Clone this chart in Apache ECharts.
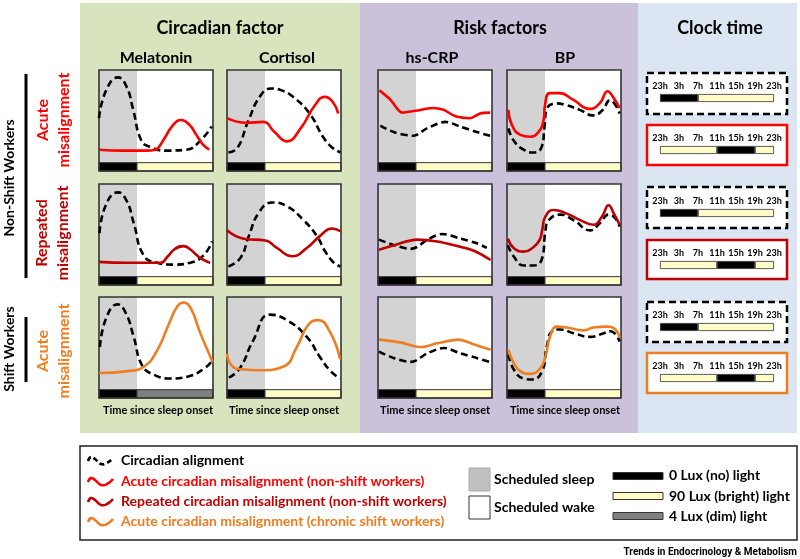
<!DOCTYPE html>
<html><head><meta charset="utf-8">
<script src="https://cdn.jsdelivr.net/npm/echarts@6/dist/echarts.min.js"></script>
<style>html,body{margin:0;padding:0;background:#fff}#c{width:800px;height:559px}</style>
</head><body><div id="c"></div><script>
// ---------- data (x = hours since sleep onset, y = relative level 0-100) ----------
const SLEEP_END = 8, DAY_END = 24;

const melAlign1 = [[0,48],[1.5,78],[4,92],[5.8,82],[7.2,57],[8.9,24],[10.7,17],[14.2,13],[18.4,14],[21.2,23],[23.7,39]];
const melAcute1 = [[0,14],[5,13],[10,13],[11.8,14],[13.5,24],[15.5,40],[17.3,46],[19,41],[20.5,30],[21.8,20],[23.2,14]];
const cortAlign1 = [[0.3,11],[2.2,16],[4.4,44],[7,72],[9.3,80],[11.5,78],[13.9,71],[17.4,53],[20.2,28],[22,17],[23.9,11]];
const cortAcute1 = [[0,48],[4.1,43],[7.6,44],[10,33],[12.6,23],[15.5,37],[18.5,62],[20.6,71],[22.2,66],[23.4,53]];
const crpAlign1 = [[0.5,40],[3.3,33],[7.5,29],[10.3,37],[14.2,44],[17.3,39],[20.8,33],[23.6,29]];
const crpAcute1 = [[0.3,78],[2.6,68],[5.1,54],[7.9,56],[11.4,59],[13.8,57],[16.3,50],[19.4,48],[21.5,53],[23.6,54]];
const bpAlign1 = [[0.3,37],[1.4,24],[3.5,14],[5.6,11],[7.3,17],[7.9,39],[8.3,57],[10.4,64],[12.5,62],[15.3,57],[18.1,51],[20.2,57],[21.6,67],[22.6,64],[23.7,53]];
const bpAcute1 = [[0.3,57],[1,41],[2.8,30],[4.9,28],[6.6,33],[7.7,46],[8,62],[9,75],[11.1,75],[13.9,68],[17.4,58],[19.5,64],[21.2,77],[22.3,71],[23.7,59]];

const melAlign2 = [[0.1,47],[1.5,78],[4,91],[5.8,82],[7.3,58],[9.4,23],[12.2,15],[15.7,13],[19.2,15],[22,23],[23.8,38]];
const melRepeat2 = [[0,16],[6,15],[12.9,15],[14.5,22],[16,30],[17.8,33],[19.3,29],[20.6,23],[22,18],[23.4,15]];
const cortAlign2 = [[0.3,11],[2.8,20],[4.6,44],[6.7,69],[9.5,80],[12.6,76],[16.1,61],[18.9,44],[20.7,27],[22.5,15],[23.9,11]];
const cortRepeat2 = [[0,50],[3.5,41],[8.1,39],[10.5,31],[13.7,22],[16.8,31],[19.6,44],[22.1,52],[23.9,49]];
const crpAlign2 = [[0.2,40],[3.4,34],[6.9,30],[8.2,32],[10.4,40],[13.5,46],[17.4,41],[20.8,36],[22.9,31]];
const crpRepeat2 = [[0.2,29],[3.4,34],[8.2,40],[12.5,38],[16.7,33],[20.2,28],[23.7,18]];
const bpAlign2 = [[0.2,34],[1.4,22],[3.5,12],[5.6,12],[7.4,20],[8.1,50],[8.8,61],[11.2,67],[14,61],[17.5,50],[19.6,58],[21.4,67],[22.8,63],[23.7,54]];
const bpRepeat2 = [[0.2,41],[1.4,31],[3.5,27],[5.6,32],[6.9,40],[7.4,50],[8.1,65],[9.8,72],[12.6,68],[15.4,61],[18.2,56],[20,65],[21.4,77],[22.5,68],[23.7,56]];

const melAlign3 = [[0.2,46],[1.5,77],[3.9,92],[5.7,82],[7.3,57],[9.1,26],[11.6,16],[15.1,12],[18.6,14],[22.2,23],[23.9,32]];
const melShift3 = [[0,18],[6,20],[9.5,25],[12.3,43],[14.8,72],[16.5,90],[17.8,94],[19.3,88],[21.1,64],[22.8,43],[23.9,30]];
const cortAlign3 = [[0.4,13],[2.7,23],[5.5,53],[9,81],[12.6,75],[16.8,57],[19.6,35],[21.8,20],[23.8,12]];
const cortShift3 = [[0,39],[1,26],[3,22],[7,21],[11.9,25],[14.7,46],[17.1,70],[19.2,75],[21.7,62],[23.8,33]];
const crpAlign3 = [[0.2,41],[3.4,34],[6.9,30],[8.2,32],[10.3,39],[13.9,45],[17.4,39],[20.9,34],[23.4,30]];
const crpShift3 = [[0.2,54],[4.7,51],[9,46],[12.4,50],[16.9,54],[20.1,49],[23.7,43]];
const bpAlign3 = [[0.3,38],[1.4,22],[3.5,12],[5.3,11],[7.4,20],[8.4,47],[9.5,63],[11.2,65],[14,61],[17.5,57],[20.4,61],[21.8,63],[22.8,60],[23.7,52]];
const bpShift3 = [[0.3,43],[1.4,29],[2.8,20],[4.9,17],[7,23],[8.1,36],[9.1,58],[10.5,68],[12.6,67],[16.1,64],[18.2,67],[21,68],[22.8,65],[23.7,56]];

const clockTicks = ['23h','3h','7h','11h','15h','19h','23h'];
const clockAlignedHours = [8, 16];        // dark, bright (from 23h)
const clockAlignedLight = ['dark','bright'];
const clockMisHours = [12, 8, 4];
const clockMisLight = ['bright','dark','bright'];

const columnNames = ['Melatonin','Cortisol','hs-CRP','BP'];
const sectionNames = ['Circadian factor','Risk factors','Clock time'];
const xLabel = 'Time since sleep onset';

// ---------- styling / layout ----------
const FONT = 'Lato, "Open Sans", sans-serif';
const C = {align:'#000000', acute:'#ff0000', repeated:'#c00000', shift:'#ef7d22',
  sleep:'#d3d3d3', dark:'#000000', bright:'#fffcc8', dim:'#808080', frame:'#333333'};
const LIGHT = {dark:C.dark, bright:C.bright, dim:C.dim};
const colLeft = [99, 227, 378, 507];
const colCenter = [158, 284, 435, 565];
const rowTop = [70, 184, 297];
const PW = 114, PH = 101;

const panels = [
  {r:0,c:0,a:melAlign1,m:melAcute1,col:C.acute,wake:'bright'},
  {r:0,c:1,a:cortAlign1,m:cortAcute1,col:C.acute,wake:'bright'},
  {r:0,c:2,a:crpAlign1,m:crpAcute1,col:C.acute,wake:'bright',sm:0.3},
  {r:0,c:3,a:bpAlign1,m:bpAcute1,col:C.acute,wake:'bright'},
  {r:1,c:0,a:melAlign2,m:melRepeat2,col:C.repeated,wake:'bright'},
  {r:1,c:1,a:cortAlign2,m:cortRepeat2,col:C.repeated,wake:'bright'},
  {r:1,c:2,a:crpAlign2,m:crpRepeat2,col:C.repeated,wake:'bright',sm:0.3},
  {r:1,c:3,a:bpAlign2,m:bpRepeat2,col:C.repeated,wake:'bright'},
  {r:2,c:0,a:melAlign3,m:melShift3,col:C.shift,wake:'dim'},
  {r:2,c:1,a:cortAlign3,m:cortShift3,col:C.shift,wake:'bright'},
  {r:2,c:2,a:crpAlign3,m:crpShift3,col:C.shift,wake:'bright',sm:0.3},
  {r:2,c:3,a:bpAlign3,m:bpShift3,col:C.shift,wake:'bright'}
];

const grid=[], xAxis=[], yAxis=[], series=[];
function lineSeries(data, color, dashed, i, sm){
  return {type:'line', xAxisIndex:i, yAxisIndex:i, data, smooth: sm==null?0.5:sm,
    symbol:'none', showSymbol:false, clip:true, silent:true, z: dashed?3:4,
    lineStyle:{color, width:2.6, type: dashed?[7,4]:'solid', cap:'butt'}};
}
panels.forEach((p,i)=>{
  grid.push({left:colLeft[p.c], top:rowTop[p.r], width:PW, height:PH, show:true, backgroundColor:'#fff', borderWidth:0});
  xAxis.push({type:'value', gridIndex:i, min:0, max:DAY_END, show:false});
  yAxis.push({type:'value', gridIndex:i, min:-9, max:100, show:false});
  series.push({type:'line', xAxisIndex:i, yAxisIndex:i, data:[], silent:true, z:1,
    markArea:{silent:true, data:[
      [{coord:[0,0], itemStyle:{color:C.sleep}}, {coord:[SLEEP_END,100]}],
      [{coord:[0,-9], itemStyle:{color:C.dark, borderColor:C.frame, borderWidth:1}}, {coord:[SLEEP_END,0]}],
      [{coord:[SLEEP_END,-9], itemStyle:{color:LIGHT[p.wake], borderColor:C.frame, borderWidth:1}}, {coord:[DAY_END,0]}]
    ]}});
  series.push(lineSeries(p.a, C.align, true, i, p.sm));
  series.push(lineSeries(p.m, p.col, false, i, p.sm));
  series.push({type:'line', xAxisIndex:i, yAxisIndex:i, data:[], silent:true, z:6,
    markArea:{silent:true, itemStyle:{color:'rgba(0,0,0,0)', borderColor:C.frame, borderWidth:1.6},
      data:[[{coord:[0,-9]},{coord:[DAY_END,100]}]]}});
});

// clock-time bars
const clocks = [
  {y:73, h:41, bar:94, dashed:true, col:'#000', hours:clockAlignedHours, light:clockAlignedLight},
  {y:125,h:40, bar:146, col:C.acute, hours:clockMisHours, light:clockMisLight},
  {y:187,h:41, bar:209, dashed:true, col:'#000', hours:clockAlignedHours, light:clockAlignedLight},
  {y:240,h:39, bar:261, col:C.repeated, hours:clockMisHours, light:clockMisLight},
  {y:302,h:40, bar:323, dashed:true, col:'#000', hours:clockAlignedHours, light:clockAlignedLight},
  {y:353,h:40, bar:374, col:C.shift, hours:clockMisHours, light:clockMisLight}
];
const graphics = [];
clocks.forEach((k,j)=>{
  const g = grid.length;
  grid.push({left:660, top:k.bar, width:114, height:8});
  xAxis.push({type:'value', gridIndex:g, min:0, max:24, interval:4, position:'top',
    axisLine:{show:false}, axisTick:{show:false}, splitLine:{show:false},
    axisLabel:{show:true, margin:3, fontSize:9, fontWeight:'bold', fontFamily:FONT, color:'#000',
      showMinLabel:true, showMaxLabel:true, formatter:(v)=>clockTicks[Math.round(v/4)]}});
  yAxis.push({type:'category', gridIndex:g, data:['light'], show:false});
  k.hours.forEach((h,s)=>{
    series.push({type:'bar', xAxisIndex:g, yAxisIndex:g, stack:'clk'+j, data:[h], barWidth:8, silent:true,
      itemStyle:{color:LIGHT[k.light[s]], borderColor:C.frame, borderWidth:0.8}});
  });
  graphics.push({type:'rect', z:-50, shape:{x:647, y:k.y, width:140, height:k.h},
    style:{fill:'#fff', stroke:k.col, lineWidth:2.5, lineDash:k.dashed?[7,4]:null}});
});

// backgrounds
graphics.push(
  {type:'rect', z:-100, shape:{x:80,y:3,width:280,height:430}, style:{fill:'#d8e4bd'}},
  {type:'rect', z:-100, shape:{x:360,y:3,width:278,height:430}, style:{fill:'#ccc1da'}},
  {type:'rect', z:-100, shape:{x:638,y:3,width:159,height:430}, style:{fill:'#dce6f2'}}
);
function txt(text, x, y, size, opts){
  return Object.assign({type:'text', z:100, x, y, style:Object.assign({text, font:`bold ${size}px ${FONT}`,
    fill:'#000', textAlign:'center', textVerticalAlign:'middle'}, (opts&&opts.style)||{})}, opts&&opts.el||{});
}
graphics.push(txt(sectionNames[0],220,28,18), txt(sectionNames[1],500,28,18), txt(sectionNames[2],720,28,18));
const colTitleX = [156, 287, 432, 565];
columnNames.forEach((n,i)=>graphics.push(txt(n,colTitleX[i],58,16)));
colCenter.forEach(x=>graphics.push(txt(xLabel,x,410,11)));

// row labels
const rot = Math.PI/2;
graphics.push(
  txt('Non-Shift Workers',10,178,14,{el:{rotation:rot, scaleY:0.88}}),
  txt('Shift Workers',10,349,14,{el:{rotation:rot, scaleY:0.88}}),
  {type:'line', z:100, shape:{x1:26,y1:74,x2:26,y2:278}, style:{stroke:'#000',lineWidth:3}},
  {type:'line', z:100, shape:{x1:26,y1:317,x2:26,y2:382}, style:{stroke:'#000',lineWidth:3}},
  txt('Acute\nmisalignment',54,120,16,{el:{rotation:rot, scaleY:0.95},style:{fill:C.acute,lineHeight:22}}),
  txt('Repeated\nmisalignment',53,233,16,{el:{rotation:rot, scaleY:0.95},style:{fill:C.repeated,lineHeight:22}}),
  txt('Acute\nmisalignment',54,351,16,{el:{rotation:rot, scaleY:0.95},style:{fill:C.shift,lineHeight:22}})
);

// legend
graphics.push({type:'rect', z:50, shape:{x:80,y:446,width:717,height:94}, style:{fill:'#fff',stroke:'#222',lineWidth:1.5}});
const legendLines = [
  {t:'Circadian alignment', col:C.align, dashed:true, y:460},
  {t:'Acute circadian misalignment (non-shift workers)', col:C.acute, y:481},
  {t:'Repeated circadian misalignment (non-shift workers)', col:C.repeated, y:501},
  {t:'Acute circadian misalignment (chronic shift workers)', col:C.shift, y:521}
];
legendLines.forEach(l=>{
  graphics.push({type:'polyline', z:101, shape:{points:[[88,l.y+1],[91,l.y-3],[95,l.y-1],[101,l.y+4],[107,l.y+3],[113,l.y-2]], smooth:0.5},
    style:{stroke:l.col, lineWidth:2.6, fill:null, lineDash:l.dashed?[5,3]:null}});
  graphics.push(txt(l.t,121,l.y,14,{style:{fill:l.col, textAlign:'left'}}));
});
graphics.push(
  {type:'rect', z:101, shape:{x:469,y:468,width:21,height:23}, style:{fill:'#c0c0c0',stroke:'#aaa',lineWidth:1}},
  {type:'rect', z:101, shape:{x:469,y:496,width:21,height:23}, style:{fill:'#fff',stroke:'#333',lineWidth:1}},
  txt('Scheduled sleep',494,479,14,{style:{textAlign:'left'}}),
  txt('Scheduled wake',494,507,14,{style:{textAlign:'left'}}),
  {type:'rect', z:101, shape:{x:613,y:472.5,width:50,height:7}, style:{fill:C.dark,stroke:'#333',lineWidth:1}},
  {type:'rect', z:101, shape:{x:613,y:492.5,width:50,height:7}, style:{fill:C.bright,stroke:'#333',lineWidth:1}},
  {type:'rect', z:101, shape:{x:613,y:512.5,width:50,height:7}, style:{fill:C.dim,stroke:'#333',lineWidth:1}},
  txt('0 Lux (no) light',669,475,14,{style:{textAlign:'left'}}),
  txt('90 Lux (bright) light',669,496,14,{style:{textAlign:'left'}}),
  txt('4 Lux (dim) light',669,516,14,{style:{textAlign:'left'}}),
  {type:'text', z:100, x:797, y:552, style:{text:'Trends in Endocrinology & Metabolism', font:'bold 10px "Liberation Sans Narrow", Roboto, sans-serif', fill:'#000', textAlign:'right', textVerticalAlign:'middle'}}
);

const chart = echarts.init(document.getElementById('c'), null, {renderer:'canvas'});
chart.setOption({animation:false, grid, xAxis, yAxis, series, graphic:{elements:graphics}});
</script></body></html>
